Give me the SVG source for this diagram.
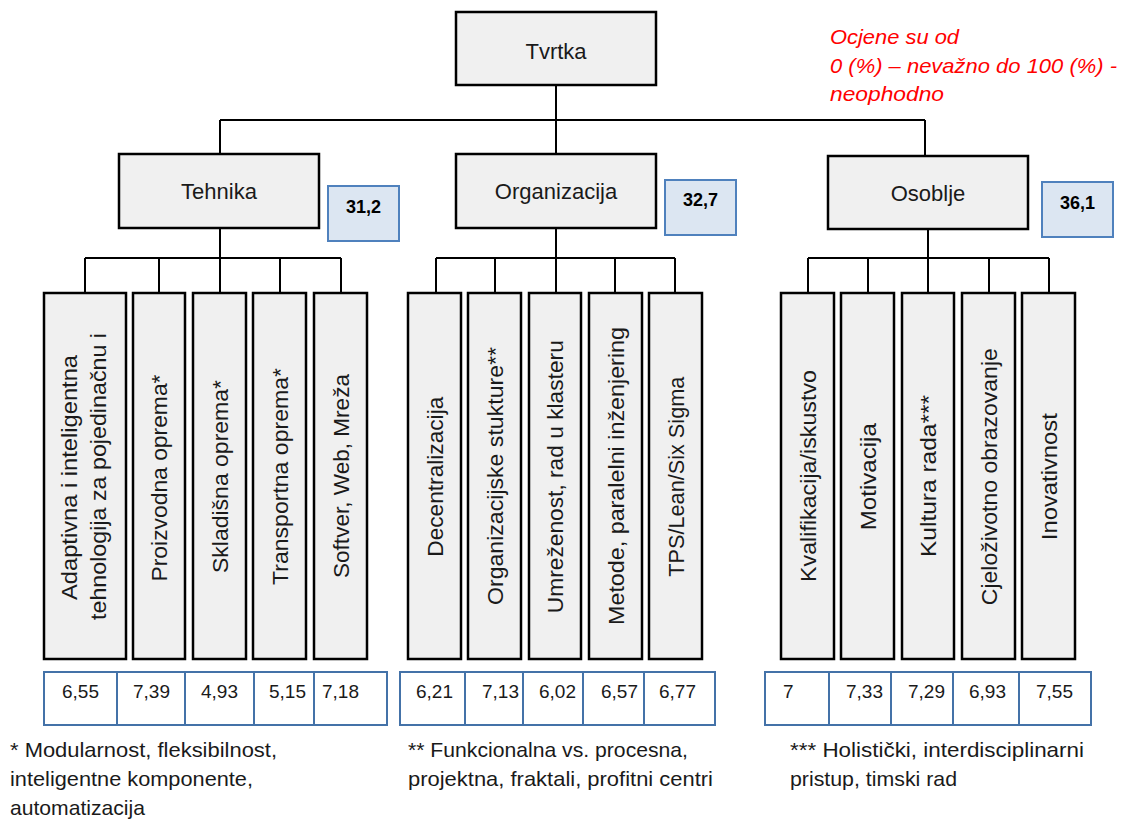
<svg xmlns="http://www.w3.org/2000/svg" width="1123" height="819" viewBox="0 0 1123 819">
<style>
text{font-family:"Liberation Sans",Arial,sans-serif;fill:#1a1a1a}
.box{fill:#f0f0f0;stroke:#000;stroke-width:2.5}
.score{fill:#dce6f2;stroke:#4f81bd;stroke-width:2}
.lbl{font-size:22px;text-anchor:middle}
.sc{font-size:18px;font-weight:bold;text-anchor:middle;fill:#000}
.v{font-size:22px;text-anchor:middle}
.tab{fill:#fff;stroke:#4472a8;stroke-width:2}
.num{font-size:19px}
.foot{font-size:21px}
.red{font-size:21px;font-style:italic;fill:#ff0000}
.con{fill:none;stroke:#000;stroke-width:2}
</style>
<rect width="1123" height="819" fill="#fff"/>
<g id="connectors" class="con">
<path d="M556 85V120M220 120H925M220 120V154M556 120V154M925 120V156"/>
<path d="M220 228V258M85 258H341M85 258V293M159 258V293M220 258V293M280 258V293M341 258V293"/>
<path d="M556 228V258M436 258H675M436 258V293M495 258V293M556 258V293M615 258V293M675 258V293"/>
<path d="M928 229V258M808 258H1049M808 258V293M868 258V293M928 258V293M989 258V293M1049 258V293"/>
</g>
<g id="tvrtka"><rect class="box" x="456" y="12" width="200" height="73"/><text class="lbl" x="556" y="59">Tvrtka</text></g>
<g id="tehnika"><rect class="box" x="119" y="154" width="200" height="74"/><text class="lbl" x="219" y="199">Tehnika</text></g>
<g id="organizacija"><rect class="box" x="456" y="154" width="200" height="74"/><text class="lbl" x="556" y="199">Organizacija</text></g>
<g id="osoblje"><rect class="box" x="828" y="156" width="200" height="73"/><text class="lbl" x="928" y="201">Osoblje</text></g>
<g id="score-tehnika"><rect class="score" x="328" y="186" width="71" height="55"/><text class="sc" x="363.5" y="212.5">31,2</text></g>
<g id="score-organizacija"><rect class="score" x="665" y="180" width="71" height="55"/><text class="sc" x="700.5" y="206">32,7</text></g>
<g id="score-osoblje"><rect class="score" x="1042" y="182" width="71" height="55"/><text class="sc" x="1077.5" y="208.5">36,1</text></g>
<g id="note">
<text class="red" x="830" y="44" textLength="129" lengthAdjust="spacingAndGlyphs">Ocjene su od</text>
<text class="red" x="830" y="72.5" textLength="287" lengthAdjust="spacingAndGlyphs">0 (%) – nevažno do 100 (%) -</text>
<text class="red" x="830" y="101" textLength="114" lengthAdjust="spacingAndGlyphs">neophodno</text>
</g>
<g id="t1"><rect class="box" x="44" y="293" width="82" height="366"/>
<text class="v" transform="translate(76.5 477.5) rotate(-90)" textLength="245" lengthAdjust="spacingAndGlyphs">Adaptivna i inteligentna</text>
<text class="v" transform="translate(105.5 476.5) rotate(-90)" textLength="287" lengthAdjust="spacingAndGlyphs">tehnologija za pojedinačnu i</text></g>
<g id="t2"><rect class="box" x="133" y="293" width="52" height="366"/><text class="v" transform="translate(167 478) rotate(-90)" textLength="207" lengthAdjust="spacingAndGlyphs">Proizvodna oprema*</text></g>
<g id="t3"><rect class="box" x="193" y="293" width="53" height="366"/><text class="v" transform="translate(227.5 476.5) rotate(-90)" textLength="193" lengthAdjust="spacingAndGlyphs">Skladišna oprema*</text></g>
<g id="t4"><rect class="box" x="253" y="293" width="53" height="366"/><text class="v" transform="translate(287.5 476.5) rotate(-90)" textLength="217" lengthAdjust="spacingAndGlyphs">Transportna oprema*</text></g>
<g id="t5"><rect class="box" x="314" y="293" width="53" height="366"/><text class="v" transform="translate(348.5 476) rotate(-90)" textLength="204" lengthAdjust="spacingAndGlyphs">Softver, Web, Mreža</text></g>
<g id="o1"><rect class="box" x="408" y="293" width="53" height="366"/><text class="v" transform="translate(442.5 476.7) rotate(-90)" textLength="160" lengthAdjust="spacingAndGlyphs">Decentralizacija</text></g>
<g id="o2"><rect class="box" x="468" y="293" width="53" height="366"/><text class="v" transform="translate(502.5 476) rotate(-90)" textLength="258" lengthAdjust="spacingAndGlyphs">Organizacijske stukture**</text></g>
<g id="o3"><rect class="box" x="529" y="293" width="52" height="366"/><text class="v" transform="translate(563 476.7) rotate(-90)" textLength="273" lengthAdjust="spacingAndGlyphs">Umreženost, rad u klasteru</text></g>
<g id="o4"><rect class="box" x="589" y="293" width="53" height="366"/><text class="v" transform="translate(623.5 476) rotate(-90)" textLength="298" lengthAdjust="spacingAndGlyphs">Metode, paralelni inženjering</text></g>
<g id="o5"><rect class="box" x="649" y="293" width="53" height="366"/><text class="v" transform="translate(683.5 476.7) rotate(-90)" textLength="200" lengthAdjust="spacingAndGlyphs">TPS/Lean/Six Sigma</text></g>
<g id="p1"><rect class="box" x="781" y="293" width="53" height="366"/><text class="v" transform="translate(815.5 476) rotate(-90)" textLength="212" lengthAdjust="spacingAndGlyphs">Kvalifikacija/iskustvo</text></g>
<g id="p2"><rect class="box" x="841" y="293" width="53" height="366"/><text class="v" transform="translate(875.5 476.7) rotate(-90)" textLength="107" lengthAdjust="spacingAndGlyphs">Motivacija</text></g>
<g id="p3"><rect class="box" x="902" y="293" width="52" height="366"/><text class="v" transform="translate(936 476) rotate(-90)" textLength="162" lengthAdjust="spacingAndGlyphs">Kultura rada***</text></g>
<g id="p4"><rect class="box" x="962" y="293" width="53" height="366"/><text class="v" transform="translate(996.5 476.7) rotate(-90)" textLength="257" lengthAdjust="spacingAndGlyphs">Cjeloživotno obrazovanje</text></g>
<g id="p5"><rect class="box" x="1022" y="293" width="53" height="366"/><text class="v" transform="translate(1056.5 476.7) rotate(-90)" textLength="127" lengthAdjust="spacingAndGlyphs">Inovativnost</text></g>
<g id="table-tehnika">
<rect class="tab" x="44" y="672" width="73" height="53"/><rect class="tab" x="117" y="672" width="68" height="53"/><rect class="tab" x="185" y="672" width="69" height="53"/><rect class="tab" x="254" y="672" width="60" height="53"/><rect class="tab" x="314" y="672" width="73" height="53"/>
<text class="num" x="62" y="698">6,55</text><text class="num" x="133" y="698">7,39</text><text class="num" x="201" y="698">4,93</text><text class="num" x="269" y="698">5,15</text><text class="num" x="322" y="698">7,18</text>
</g>
<g id="table-organizacija">
<rect class="tab" x="400" y="672" width="65" height="53"/><rect class="tab" x="465" y="672" width="58" height="53"/><rect class="tab" x="523" y="672" width="60" height="53"/><rect class="tab" x="583" y="672" width="61" height="53"/><rect class="tab" x="644" y="672" width="71" height="53"/>
<text class="num" x="416" y="698">6,21</text><text class="num" x="482" y="698">7,13</text><text class="num" x="539" y="698">6,02</text><text class="num" x="601" y="698">6,57</text><text class="num" x="659" y="698">6,77</text>
</g>
<g id="table-osoblje">
<rect class="tab" x="765" y="672" width="64" height="53"/><rect class="tab" x="829" y="672" width="62" height="53"/><rect class="tab" x="891" y="672" width="62" height="53"/><rect class="tab" x="953" y="672" width="66" height="53"/><rect class="tab" x="1019" y="672" width="72" height="53"/>
<text class="num" x="783" y="698">7</text><text class="num" x="846" y="698">7,33</text><text class="num" x="908" y="698">7,29</text><text class="num" x="969" y="698">6,93</text><text class="num" x="1036" y="698">7,55</text>
</g>
<g id="footnotes">
<text class="foot" x="10" y="757" textLength="267" lengthAdjust="spacingAndGlyphs">* Modularnost, fleksibilnost,</text>
<text class="foot" x="10" y="786" textLength="243" lengthAdjust="spacingAndGlyphs">inteligentne komponente,</text>
<text class="foot" x="10" y="815" textLength="135" lengthAdjust="spacingAndGlyphs">automatizacija</text>
<text class="foot" x="408" y="757" textLength="280" lengthAdjust="spacingAndGlyphs">** Funkcionalna vs. procesna,</text>
<text class="foot" x="408" y="786" textLength="305" lengthAdjust="spacingAndGlyphs">projektna, fraktali, profitni centri</text>
<text class="foot" x="790" y="757" textLength="294" lengthAdjust="spacingAndGlyphs">*** Holistički, interdisciplinarni</text>
<text class="foot" x="790" y="786" textLength="167" lengthAdjust="spacingAndGlyphs">pristup, timski rad</text>
</g>
</svg>
